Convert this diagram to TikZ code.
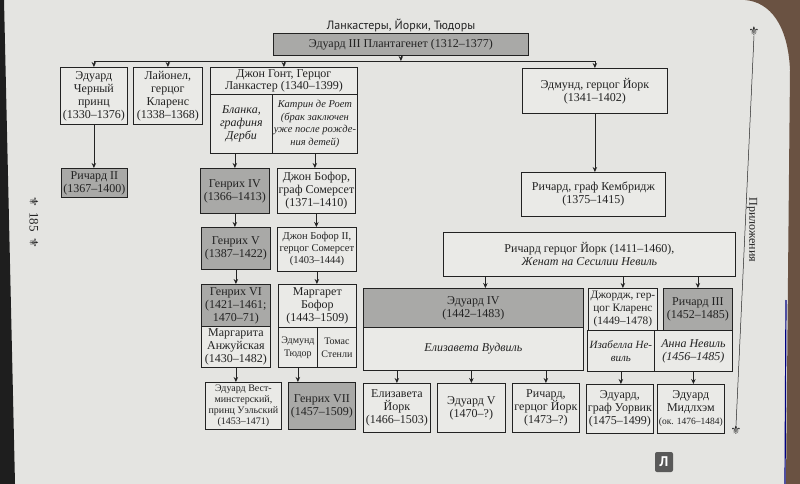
\documentclass[tikz,border=0pt]{standalone}
\usepackage{fontspec}
\setmainfont{Liberation Serif}
\newfontfamily\titlefont{PT Sans}
\newfontfamily\symfont{DejaVu Sans}
\usetikzlibrary{arrows.meta,calc}
\definecolor{page}{HTML}{E4E4E1}
\definecolor{boxw}{HTML}{EAEAE7}
\definecolor{boxg}{HTML}{A9A9A7}
\definecolor{ink}{HTML}{222222}
\definecolor{wood}{HTML}{6A5242}
\definecolor{spine}{HTML}{1E1E1E}
\tikzset{
  box/.style={draw=ink, line width=0.8pt, fill=boxw, inner sep=1pt, align=center,
    anchor=north west, text=ink, font=\fontsize{12}{13}\selectfont},
  gbox/.style={box, fill=boxg},
  smallbox/.style={box, font=\fontsize{10.5}{12}\selectfont},
  itbox/.style={box, font=\fontsize{12}{13}\selectfont\itshape},
  arr/.style={draw=ink, line width=0.8pt, -{Stealth[length=5pt,width=4.5pt]}},
  bus/.style={draw=ink, line width=0.8pt},
  orn/.style={font=\symfont\fontsize{12}{12}\selectfont, text=ink, inner sep=0pt}
}
\begin{document}
\begin{tikzpicture}[x=1pt,y=-1pt]
\useasboundingbox (0,0) rectangle (800,484);
% page
\fill[page] (0,0) rectangle (800,484);
\fill[spine] (0,0) -- (4,0) -- (15,484) -- (0,484) -- cycle;
\fill[wood] (745,0) .. controls (770,2) and (788,25) .. (790,70) -- (786,484) -- (800,484) -- (800,0) -- cycle;
\draw[color=blue!50!black, line width=1.2pt] (786,300) -- (785,484);
% margin texts
\node[rotate=-90, font=\fontsize{13}{13}\selectfont, text=ink] (pnum) at (34,222) {185};
\node[orn, rotate=-90] (ornA) at (34,202) {⚜};
\node[orn, rotate=-90] (ornB) at (34,243) {⚜};
\node[rotate=-90, font=\fontsize{12}{12}\selectfont, text=ink] (appx) at (752,230) {Приложения};
\node[orn] (ornT) at (754,31) {⚜};
\node[orn] (ornBR) at (736,430) {⚜};
\draw[ink, line width=0.5pt] (ornT.south) -- (ornBR.north);
% watermark
\node[fill=gray!70!black, rounded corners=2pt, text=white, minimum width=18, minimum height=20,
  font=\titlefont\fontsize{14}{14}\selectfont\bfseries, inner sep=0pt] (logo) at (664,462) {Л};
% title
\node[font=\titlefont\fontsize{12}{13}\selectfont, text=ink] (title) at (401,25) {Ланкастеры, Йорки, Тюдоры};
% generation 0
\node[gbox, minimum width=255, minimum height=22] (e3) at (273,33) {Эдуард III Плантагенет (1312–1377)};
% generation 1
\node[box, minimum width=67, minimum height=57] (bp) at (60,67) {Эдуард\\Черный\\принц\\(1330–1376)};
\node[box, minimum width=69, minimum height=57] (lio) at (133,67) {Лайонел,\\герцог\\Кларенс\\(1338–1368)};
\node[box, font=\fontsize{12}{12.5}\selectfont, minimum width=147, minimum height=27] (gaunt) at (210,67) {Джон Гонт, Герцог\\Ланкастер (1340–1399)};
\node[itbox, minimum width=62, minimum height=59] (blanka) at (210,94) {Бланка,\\графиня\\Дерби};
\node[box, font=\fontsize{10.5}{12.5}\selectfont\itshape, minimum width=85, minimum height=59] (katrin) at (272,94) {Катрин де Роет\\(брак заключен\\уже после рожде-\\ния детей)};
\node[box, minimum width=145, minimum height=45] (edm) at (522,68) {Эдмунд, герцог Йорк\\(1341–1402)};
% generation 2
\node[gbox, minimum width=66, minimum height=29] (r2) at (61,168) {Ричард II\\(1367–1400)};
\node[gbox, minimum width=69, minimum height=45] (h4) at (200,168) {Генрих IV\\(1366–1413)};
\node[box, minimum width=78, minimum height=45] (bf) at (277,168) {Джон Бофор,\\граф Сомерсет\\(1371–1410)};
\node[box, minimum width=144, minimum height=44] (camb) at (521,172) {Ричард, граф Кембридж\\(1375–1415)};
% generation 3
\node[gbox, minimum width=69, minimum height=42] (h5) at (201,227) {Генрих V\\(1387–1422)};
\node[smallbox, minimum width=79, minimum height=44] (bf2) at (277,227) {Джон Бофор II,\\герцог Сомерсет\\(1403–1444)};
\node[box, minimum width=292, minimum height=44] (york) at (443,232) {Ричард герцог Йорк (1411–1460),\\\textit{Женат на Сесилии Невиль}};
% generation 4
\node[gbox, minimum width=69, minimum height=42] (h6) at (201,284) {Генрих VI\\(1421–1461;\\1470–71)};
\node[box, minimum width=69, minimum height=41] (margA) at (201,326) {Маргарита\\Анжуйская\\(1430–1482)};
\node[box, minimum width=78, minimum height=43] (margB) at (278,284) {Маргарет\\Бофор\\(1443–1509)};
\node[box, font=\fontsize{10}{13}\selectfont, minimum width=39, minimum height=40] (tudor) at (278,327) {Эдмунд\\Тюдор};
\node[box, font=\fontsize{10}{13}\selectfont, minimum width=39, minimum height=40] (stan) at (317,327) {Томас\\Стенли};
\node[gbox, minimum width=220, minimum height=39] (e4) at (363,288) {Эдуард IV\\(1442–1483)};
\node[itbox, minimum width=220, minimum height=43] (wood) at (363,327) {Елизавета Вудвиль};
\node[box, font=\fontsize{11.3}{13}\selectfont, minimum width=69, minimum height=42] (geo) at (588,288) {Джордж, гер-\\цог Кларенс\\(1449–1478)};
\node[gbox, minimum width=69, minimum height=42] (r3) at (663,288) {Ричард III\\(1452–1485)};
\node[itbox, font=\fontsize{11}{13}\selectfont\itshape, minimum width=67, minimum height=41] (isa) at (587,330) {Изабелла Не-\\виль};
\node[itbox, minimum width=78, minimum height=41] (anne) at (654,330) {Анна Невиль\\(1456–1485)};
% generation 5
\node[box, font=\fontsize{10}{11}\selectfont, minimum width=76, minimum height=47] (ew) at (205,382) {Эдуард Вест-\\минстерский,\\принц Уэльский\\(1453–1471)};
\node[gbox, minimum width=67, minimum height=47] (h7) at (288,382) {Генрих VII\\(1457–1509)};
\node[box, minimum width=67, minimum height=49] (ey) at (363,383) {Елизавета\\Йорк\\(1466–1503)};
\node[box, minimum width=68, minimum height=49] (e5) at (437,383) {Эдуард V\\(1470–?)};
\node[box, minimum width=67, minimum height=49] (ry) at (512,383) {Ричард,\\герцог Йорк\\(1473–?)};
\node[box, minimum width=67, minimum height=49] (war) at (586,384) {Эдуард,\\граф Уорвик\\(1475–1499)};
\node[box, minimum width=67, minimum height=49] (mid) at (657,384) {Эдуард\\Мидлхэм\\{\fontsize{9.5}{13}\selectfont(ок. 1476–1484)}};
% connectors
\coordinate (bus) at (400,61);
\draw[arr] (e3.south) -- (e3.south |- bus);
\draw[bus] (bp.north |- bus) -- (edm.north |- bus);
\foreach \n in {bp,lio,gaunt,edm} \draw[arr] (\n.north |- bus) -- (\n.north);
\draw[arr] (bp.south) -- (bp.south |- r2.north);
\draw[arr] (h4.north |- blanka.south) -- (h4.north);
\draw[arr] (katrin.south) -- (katrin.south |- bf.north);
\draw[arr] (edm.south) -- (edm.south |- camb.north);
\draw[arr] (h4.south) -- (h4.south |- h5.north);
\draw[arr] (bf.south) -- (bf.south |- bf2.north);
\draw[arr] (h5.south) -- (h5.south |- h6.north);
\draw[arr] (bf2.south) -- (bf2.south |- margB.north);
\coordinate (e4in) at ($(e4.north)+(12,0)$);
\draw[arr] (e4in |- york.south) -- (e4in);
\draw[arr] (geo.north |- york.south) -- (geo.north);
\draw[arr] (r3.north |- york.south) -- (r3.north);
\draw[arr] (margA.south) -- (margA.south |- ew.north);
\draw[arr] (tudor.south) -- (tudor.south |- h7.north);
\foreach \n in {ey,e5,ry} \draw[arr] (\n.north |- wood.south) -- (\n.north);
\draw[arr] (isa.south) -- (isa.south |- war.north);
\draw[arr] (anne.south) -- (anne.south |- mid.north);
\end{tikzpicture}
\end{document}
